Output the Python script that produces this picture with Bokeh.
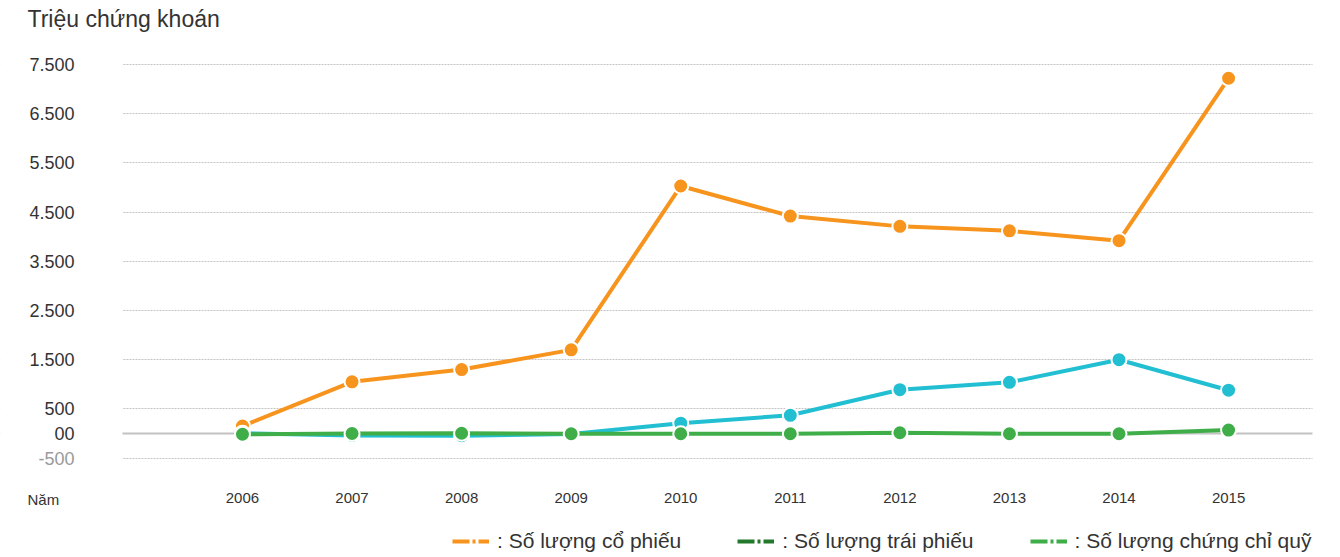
from bokeh.plotting import figure
from bokeh.models import (FixedTicker, Span, Label, Legend, LegendItem, Range1d,
                          ColumnDataSource, BoxAnnotation, LinearAxis)
from bokeh.embed import file_html
from bokeh.resources import INLINE

# ---------------- data ----------------
years = [2006, 2007, 2008, 2009, 2010, 2011, 2012, 2013, 2014, 2015]
co_phieu = [150, 1050, 1300, 1700, 5030, 4420, 4210, 4120, 3920, 7220]
trai_phieu = [5, -40, -45, -10, 210, 370, 890, 1040, 1500, 880]
chung_chi_quy = [-15, 0, 5, -5, -5, -5, 15, -5, -5, 70]

y_ticks = [0, 500, 1500, 2500, 3500, 4500, 5500, 6500, 7500]
y_tick_labels = ["00", "500", "1.500", "2.500", "3.500", "4.500", "5.500", "6.500", "7.500"]
neg_ticks = [-500]
neg_tick_labels = ["-500"]
title_text = "Triệu chứng khoán"
x_name = "Năm"
legend_labels = [": Số lượng cổ phiếu", ": Số lượng trái phiếu", ": Số lượng chứng chỉ quỹ"]

# ---------------- style ----------------
FONT = "Liberation Sans"
ORANGE = "#F7941D"
CYAN = "#22BFD2"
GREEN = "#3FAE49"
DARK_GREEN = "#22782B"
TXT = "#333333"

W, H = 1340, 557
X0, X1 = 2004.905, 2015.766          # left/right end of grid lines
Y_AXIS_BASE = -752                   # where the x labels hang from
px_x = (X1 - X0) / 1190.0
px_y = 7500 / 369.0
x_range = Range1d(X0 - 122 * px_x, X1 + 28 * px_x)
y_range = Range1d(-(H - 433) * px_y, 433 * px_y)

p = figure(width=W, height=H, x_range=x_range, y_range=y_range,
           output_backend="svg", toolbar_location=None, title=None,
           x_axis_location=None, y_axis_location=None,
           min_border=0, min_border_left=0, min_border_right=0,
           min_border_top=0, min_border_bottom=0)
p.outline_line_color = None
p.background_fill_color = "white"
p.border_fill_color = "white"

# grid + zero line, trimmed to the plotting area
p.xgrid.visible = False
p.ygrid.ticker = FixedTicker(ticks=[t for t in neg_ticks + y_ticks if t != 0])
p.ygrid.grid_line_color = "#c4c4c4"
p.ygrid.grid_line_dash = "2 1"
p.ygrid.grid_line_width = 1
p.add_layout(Span(location=0, dimension="width", line_color="#c2c2c2", line_width=2,
                  level="underlay"))
p.add_layout(BoxAnnotation(left=X0 - 300 * px_x, right=X0, fill_color="white",
                           fill_alpha=1, line_alpha=0, level="underlay"))
p.add_layout(BoxAnnotation(left=X1, right=X1 + 200 * px_x, fill_color="white",
                           fill_alpha=1, line_alpha=0, level="underlay"))

# axes (fixed inside the canvas)
xaxis = LinearAxis(ticker=FixedTicker(ticks=years), fixed_location=Y_AXIS_BASE,
                   axis_line_color=None, major_tick_line_color=None,
                   minor_tick_line_color=None, major_label_standoff=17,
                   major_label_text_font=FONT, major_label_text_font_size="15px",
                   major_label_text_color=TXT)
p.add_layout(xaxis, "below")

yaxis = LinearAxis(ticker=FixedTicker(ticks=y_ticks),
                   major_label_overrides={t: l for t, l in zip(y_ticks, y_tick_labels)},
                   fixed_location=X0, axis_line_color=None, major_tick_line_color=None,
                   minor_tick_line_color=None, major_label_standoff=42,
                   major_label_text_font=FONT, major_label_text_font_size="18px",
                   major_label_text_color=TXT)
p.add_layout(yaxis, "left")
yaxis2 = LinearAxis(ticker=FixedTicker(ticks=neg_ticks),
                    major_label_overrides={t: l for t, l in zip(neg_ticks, neg_tick_labels)},
                    fixed_location=X0, axis_line_color=None, major_tick_line_color=None,
                    minor_tick_line_color=None, major_label_standoff=42,
                    major_label_text_font=FONT, major_label_text_font_size="18px",
                    major_label_text_color="#9a9a9a")
p.add_layout(yaxis2, "left")

# series
src = ColumnDataSource(dict(x=years, a=co_phieu, b=trai_phieu, c=chung_chi_quy))
for col, color in (("a", ORANGE), ("b", CYAN), ("c", GREEN)):
    p.line("x", col, source=src, line_color=color, line_width=4)
    p.scatter("x", col, source=src, size=15, fill_color=color,
              line_color="white", line_width=2)

# texts
p.add_layout(Label(x=27, y=H - 18, x_units="screen", y_units="screen", text=title_text,
                   text_font=FONT, text_font_size="23px", text_color=TXT,
                   text_baseline="middle"))
p.add_layout(Label(x=27, y=H - 499, x_units="screen", y_units="screen", text=x_name,
                   text_font=FONT, text_font_size="15px", text_color=TXT,
                   text_baseline="middle"))

# legend (custom swatches; NaN rows draw nothing in the plot)
nan_src = ColumnDataSource(dict(x=[years[0]], y=[float("nan")]))
swatches = []
for color in (ORANGE, DARK_GREEN, GREEN):
    swatches.append(p.line("x", "y", source=nan_src, line_color=color, line_width=4,
                           line_dash="17 3 3 3"))
legend = Legend(items=[LegendItem(label=lab, renderers=[r])
                       for lab, r in zip(legend_labels, swatches)],
                orientation="horizontal", location=(452, 4),
                glyph_width=37, glyph_height=20, label_standoff=8, spacing=56,
                padding=0, margin=0, border_line_color=None,
                background_fill_alpha=0,
                label_text_font=FONT, label_text_font_size="21px",
                label_text_color=TXT)
p.add_layout(legend, "center")

open("out.html", "w").write(file_html(p, INLINE))
